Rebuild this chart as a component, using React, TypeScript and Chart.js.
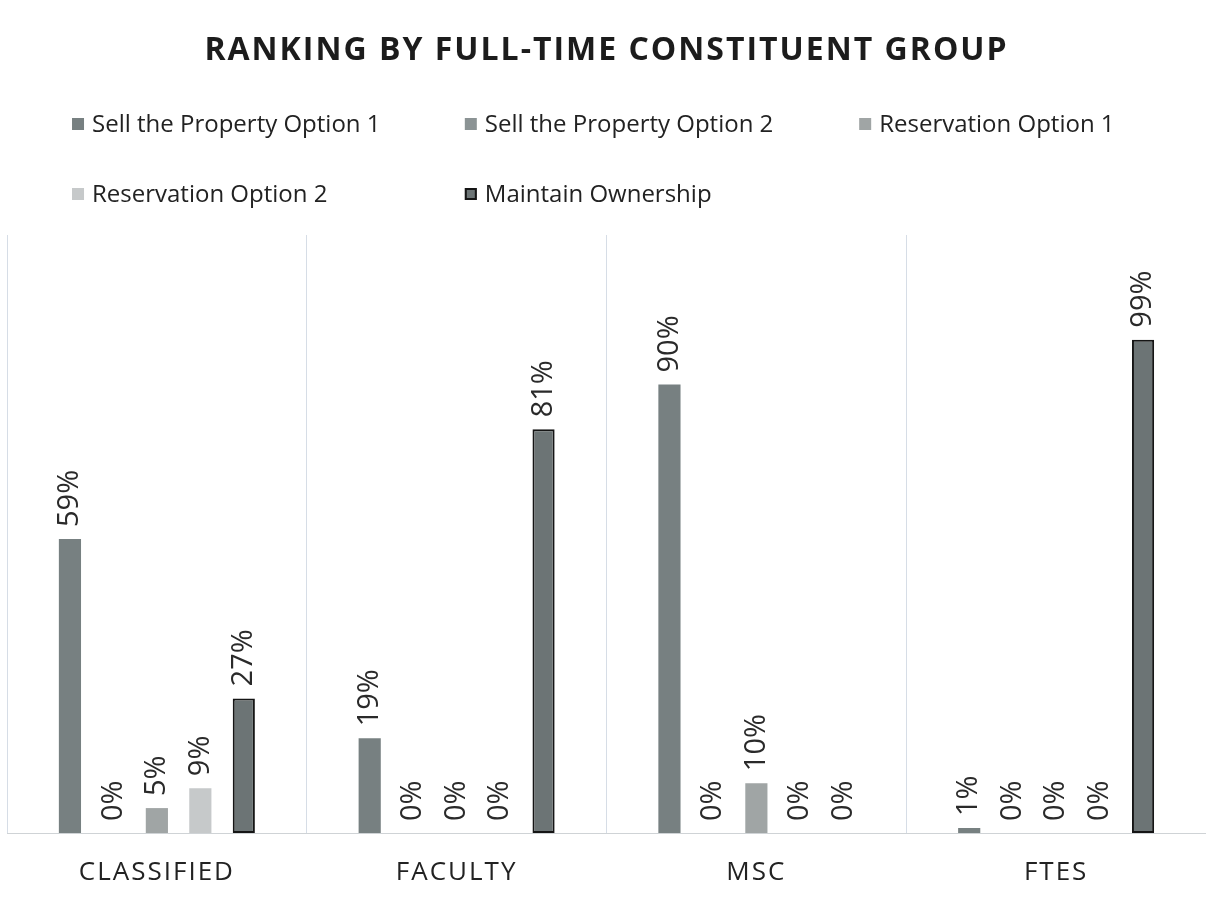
import React, { useEffect, useRef } from "react";
import { Chart, registerables } from "chart.js";

Chart.register(...registerables);

const categories = ["CLASSIFIED", "FACULTY", "MSC", "FTES"];
const seriesNames = [
  "Sell the Property Option 1",
  "Sell the Property Option 2",
  "Reservation Option 1",
  "Reservation Option 2",
  "Maintain Ownership",
];
const sellOption1 = [0.59, 0.19, 0.9, 0.01];
const sellOption2 = [0, 0, 0, 0];
const reservationOption1 = [0.05, 0, 0.1, 0];
const reservationOption2 = [0.09, 0, 0, 0];
const maintainOwnership = [0.27, 0.81, 0, 0.99];

const seriesValues = [sellOption1, sellOption2, reservationOption1, reservationOption2, maintainOwnership];
const seriesColors = ["#778081", "#8b9394", "#a0a5a5", "#c6c9ca", "#6c7475"];
const seriesBorders = ["#778081", "#8b9394", "#a0a5a5", "#c6c9ca", "#151515"];
const seriesBorderWidths = [0, 0, 0, 0, 2];

const FONT = "'Open Sans', 'Noto Sans', sans-serif";

const spacingPlugin = {
  id: "spacing",
  beforeDraw(chart: any) {
    chart.ctx.letterSpacing = "2px";
  },
};

const legendPlugin = {
  id: "customLegend",
  afterDraw(chart: any) {
    const ctx = chart.ctx;
    const w = chart.width;
    const cols = [0.0763, 0.402, 0.729];
    const rows = [125, 195];
    ctx.save();
    ctx.letterSpacing = "0px";
    ctx.font = `24px ${FONT}`;
    ctx.textBaseline = "middle";
    ctx.textAlign = "left";
    seriesNames.forEach((name, i) => {
      const tx = w * cols[i % 3];
      const y = rows[Math.floor(i / 3)];
      const bx = tx - 20;
      ctx.fillStyle = seriesColors[i];
      ctx.fillRect(bx, y - 7, 12, 12);
      if (seriesBorderWidths[i] > 0) {
        ctx.strokeStyle = seriesBorders[i];
        ctx.lineWidth = 2;
        ctx.strokeRect(bx + 1, y - 6, 10, 10);
      }
      ctx.fillStyle = "#222";
      ctx.fillText(name, tx, y);
    });
    ctx.restore();
  },
};

const dataLabelPlugin = {
  id: "dataLabels",
  afterDatasetsDraw(chart: any) {
    const ctx = chart.ctx;
    ctx.save();
    ctx.letterSpacing = "0px";
    ctx.font = `29px ${FONT}`;
    ctx.fillStyle = "#2a2a2a";
    ctx.textAlign = "left";
    ctx.textBaseline = "middle";
    chart.data.datasets.forEach((ds: any, di: number) => {
      const meta = chart.getDatasetMeta(di);
      meta.data.forEach((bar: any, i: number) => {
        const v = ds.data[i];
        const label = Math.round(v * 100) + "%";
        ctx.save();
        ctx.translate(bar.x, bar.y - 12);
        ctx.rotate(-Math.PI / 2);
        ctx.fillText(label, 0, 0);
        ctx.restore();
      });
    });
    ctx.restore();
  },
};

export default function App() {
  const ref = useRef<HTMLCanvasElement>(null);
  useEffect(() => {
    if (!ref.current) return;
    const chart = new Chart(ref.current, {
      type: "bar",
      data: {
        labels: categories,
        datasets: seriesNames.map((name, i) => ({
          label: name,
          data: seriesValues[i],
          backgroundColor: seriesColors[i],
          borderColor: seriesBorders[i],
          borderWidth: seriesBorderWidths[i],
          borderSkipped: false,
          categoryPercentage: 0.725,
          barPercentage: 0.51,
        })),
      },
      options: {
        animation: false,
        responsive: true,
        maintainAspectRatio: false,
        layout: { padding: { left: 7, right: 0, top: 0, bottom: 10 } },
        plugins: {
          legend: { display: false },
          tooltip: { enabled: false },
          title: {
            display: true,
            text: "RANKING BY FULL-TIME CONSTITUENT GROUP",
            color: "#1c1c1c",
            font: { family: FONT, size: 32, weight: "bold", lineHeight: 1.2 },
            padding: { top: 32, bottom: 164.6 },
          },
        },
        scales: {
          x: {
            grid: { display: true, color: "#d6dde6", drawTicks: false, offset: true },
            border: { display: true, color: "#cfd3d6", width: 1 },
            ticks: {
              color: "#222",
              font: { family: FONT, size: 26 },
              padding: 24,
              autoSkip: false,
              maxRotation: 0,
            },
            afterFit(scale: any) {
              scale.height = 55;
            },
          },
          y: {
            display: false,
            min: 0,
            max: 1.2,
          },
        },
      },
      plugins: [spacingPlugin, legendPlugin, dataLabelPlugin],
    });
    return () => chart.destroy();
  }, []);
  return (
    <div style={{ position: "absolute", left: 0, top: 0, width: 1206, height: 898, background: "#fff" }}>
      <canvas ref={ref} />
    </div>
  );
}
